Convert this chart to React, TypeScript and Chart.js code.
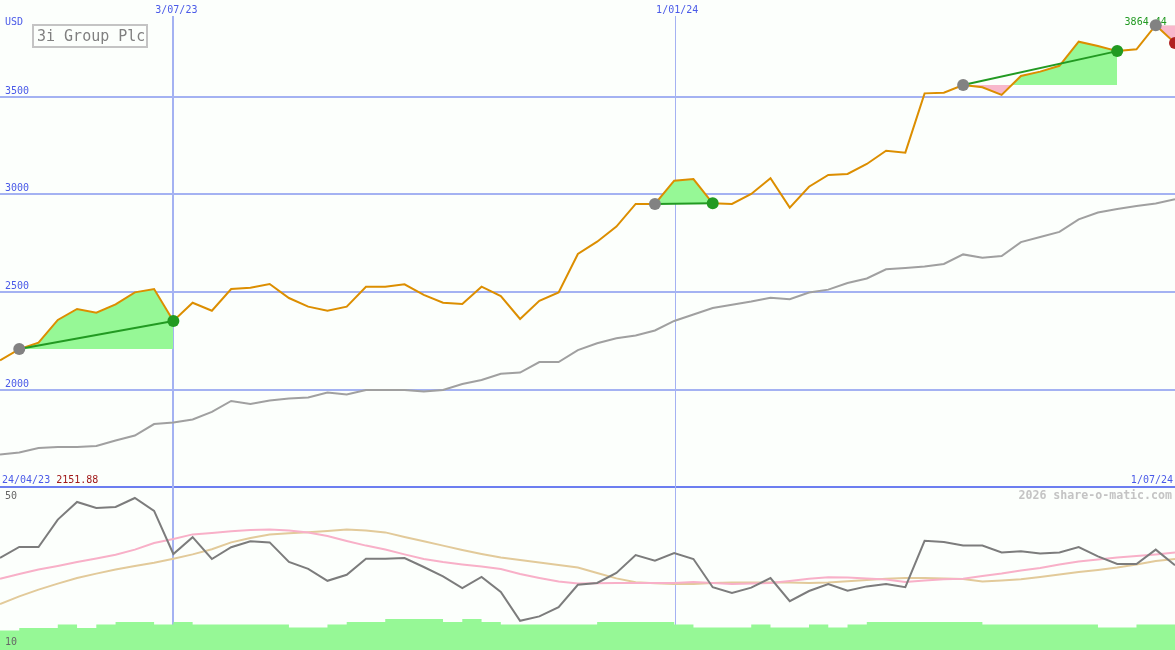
import React, { useEffect, useRef } from "react";
import { Chart, registerables } from "chart.js";

Chart.register(...registerables);

// ---- data (weekly points, 24/04/23 .. 1/07/24) ----
const price = [
  2151.88, 2209, 2242, 2358, 2414, 2395, 2438, 2499, 2516, 2353,
  2446, 2405, 2516, 2523, 2542, 2470, 2426, 2405, 2426, 2528,
  2528, 2540, 2486, 2446, 2440, 2528, 2480, 2363, 2456, 2499,
  2695, 2758, 2835, 2951, 2951, 3070, 3078, 2954, 2951, 3002,
  3082, 2932, 3039, 3099, 3104, 3155, 3223, 3213, 3516, 3519,
  3559, 3547, 3508, 3605, 3627, 3657, 3780, 3758, 3732, 3741,
  3864.44, 3773,
];

const benchmark = [
  1670, 1681, 1704, 1709, 1709, 1714, 1742, 1767, 1826, 1834,
  1849, 1888, 1944, 1928, 1946, 1957, 1962, 1987, 1977, 2000,
  2000, 2000, 1992, 2000, 2031, 2051, 2083, 2089, 2143, 2143,
  2204, 2239, 2264, 2279, 2304, 2353, 2386, 2419, 2436, 2452,
  2472, 2464, 2498, 2513, 2547, 2570, 2617, 2624, 2631, 2644,
  2693, 2676, 2685, 2756, 2782, 2808, 2872, 2907, 2925, 2940,
  2953, 2975,
];

const oscillator = [
  33, 35.75, 35.75, 42.6, 47, 45.5, 45.75, 48, 44.8, 34,
  38.2, 32.75, 35.7, 37.2, 36.9, 32, 30.3, 27.3, 28.8, 32.8,
  32.8, 33, 30.75, 28.4, 25.5, 28.25, 24.5, 17.3, 18.4, 20.7,
  26.3, 26.75, 29.25, 33.75, 32.3, 34.25, 32.75, 25.7, 24.25, 25.6,
  28, 22.2, 24.75, 26.5, 24.8, 25.9, 26.5, 25.7, 37.3, 37,
  36.1, 36.1, 34.4, 34.7, 34.1, 34.4, 35.75, 33.4, 31.5, 31.5,
  35.1, 31.2,
];

const oscFast = [
  27.8, 29, 30.1, 31, 32, 32.9, 33.8, 35.1, 36.75, 37.75,
  38.9, 39.25, 39.7, 40, 40.1, 39.9, 39.4, 38.5, 37.25, 36.1,
  35.1, 33.9, 32.75, 32, 31.4, 30.9, 30.25, 29, 28, 27.1,
  26.6, 26.7, 26.75, 26.75, 26.75, 26.75, 27, 26.75, 26.5, 26.6,
  26.75, 27.25, 27.8, 28.2, 28.1, 27.9, 27.6, 27, 27.4, 27.7,
  27.8, 28.5, 29.1, 29.9, 30.5, 31.4, 32.1, 32.6, 33.1, 33.5,
  33.9, 34.4,
];

const oscSlow = [
  21.5, 23.4, 25.1, 26.6, 28, 29.1, 30.1, 31, 31.8, 32.8,
  33.9, 35.2, 36.9, 38, 38.9, 39.2, 39.45, 39.75, 40.1, 39.9,
  39.4, 38.25, 37.2, 36.1, 35, 34, 33.1, 32.5, 31.9, 31.25,
  30.6, 29.25, 27.9, 26.95, 26.7, 26.5, 26.5, 26.75, 26.9, 26.9,
  26.9, 26.9, 26.75, 26.9, 27.2, 27.5, 27.8, 28, 28, 27.9,
  27.75, 27.1, 27.4, 27.7, 28.25, 28.9, 29.5, 30, 30.6, 31.4,
  32.25, 32.75,
];

const volume = [
  3.9, 4.4, 4.4, 5.1, 4.4, 5.1, 5.6, 5.6, 5.1, 5.6,
  5.1, 5.1, 5.1, 5.1, 5.1, 4.5, 4.5, 5.1, 5.6, 5.6,
  6.2, 6.2, 6.2, 5.6, 6.2, 5.6, 5.1, 5.1, 5.1, 5.1,
  5.1, 5.6, 5.6, 5.6, 5.6, 5.1, 4.5, 4.5, 4.5, 5.1,
  4.5, 4.5, 5.1, 4.5, 5.1, 5.6, 5.6, 5.6, 5.6, 5.6,
  5.6, 5.1, 5.1, 5.1, 5.1, 5.1, 5.1, 4.5, 4.5, 5.1,
  5.1, 5.1,
];

const priceTicks = [2000, 2500, 3000, 3500];
const dateMarkIdx = [9, 35];
const dateMarkLabels = ["3/07/23", "1/01/24"];
const signalStart = [1, 34, 50, 60];
const signalEnd = [9, 37, 58, 61];
const startDateLabel = "24/04/23";
const startPriceLabel = "2151.88";
const endDateLabel = "1/07/24";
const highIdx = 60;
const highLabel = "3864.44";
const title = "3i Group Plc";
const currency = "USD";
const oscTopLabel = "50";
const oscBottomLabel = "10";
const credit = "2026 share-o-matic.com";

// ---- styles ----
const BG = "#fcfffc";
const GRID = "#a4b2f2";
const SEP = "#6c7ef0";
const TXT_BLUE = "#4a5ae8";
const ORANGE = "#dc8e00";
const BENCH = "#a0a0a0";
const OSC = "#7c7c7c";
const PINK_LINE = "#f8b0c8";
const TAN_LINE = "#e2ca9a";
const GREEN_FILL = "#96f896";
const PINK_FILL = "#f8b8cc";
const GREEN = "#229a22";
const RED = "#b02020";
const DOT_GRAY = "#828282";
const MONO = '"DejaVu Sans Mono", monospace';

const W = 1175;
const H = 650;

export default function App() {
  const ref = useRef<HTMLCanvasElement | null>(null);

  useEffect(() => {
    document.body.style.margin = "0";
    document.body.style.background = BG;
    const canvas = ref.current;
    if (!canvas) return;

    const idx = price.map((_, i) => i);
    const labels = idx.map((i) => String(i));
    const inRange = (i: number, s: number, e: number) => i >= s && i <= e;
    const gain = (k: number) => price[signalEnd[k]] >= price[signalStart[k]];

    const datasets: any[] = [];
    const base = {
      pointRadius: 0,
      pointHoverRadius: 0,
      borderWidth: 2,
      tension: 0,
      fill: false,
    };

    datasets.push({
      ...base,
      label: "volume",
      data: volume,
      yAxisID: "yVol",
      stepped: true,
      fill: "start",
      backgroundColor: GREEN_FILL,
      borderColor: "rgba(0,0,0,0)",
      borderWidth: 0,
      order: 40,
    });

    signalStart.forEach((s, k) => {
      const e = signalEnd[k];
      const baseIndex = datasets.length;
      datasets.push({
        ...base,
        label: "base" + k,
        data: idx.map((i) => (inRange(i, s, e) ? price[s] : null)),
        yAxisID: "y",
        borderColor: "rgba(0,0,0,0)",
        borderWidth: 0,
        order: 31,
      });
      datasets.push({
        ...base,
        label: "area" + k,
        data: idx.map((i) => (inRange(i, s, e) ? price[i] : null)),
        yAxisID: "y",
        borderColor: "rgba(0,0,0,0)",
        borderWidth: 0,
        fill: { target: baseIndex, above: GREEN_FILL, below: PINK_FILL },
        order: 30,
      });
    });

    datasets.push({
      ...base,
      label: "slow",
      data: oscSlow,
      yAxisID: "yOsc",
      borderColor: TAN_LINE,
      order: 22,
    });
    datasets.push({
      ...base,
      label: "fast",
      data: oscFast,
      yAxisID: "yOsc",
      borderColor: PINK_LINE,
      order: 21,
    });
    datasets.push({
      ...base,
      label: "osc",
      data: oscillator,
      yAxisID: "yOsc",
      borderColor: OSC,
      order: 20,
    });

    datasets.push({
      ...base,
      label: "benchmark",
      data: benchmark,
      yAxisID: "y",
      borderColor: BENCH,
      order: 12,
    });

    signalStart.forEach((s, k) => {
      if (!gain(k)) return;
      const e = signalEnd[k];
      datasets.push({
        ...base,
        label: "trend" + k,
        data: idx.map((i) => (i === s || i === e ? price[i] : null)),
        yAxisID: "y",
        spanGaps: true,
        borderColor: GREEN,
        order: 5,
      });
    });

    datasets.push({
      ...base,
      label: "price",
      data: price,
      yAxisID: "y",
      borderColor: ORANGE,
      order: 10,
    });

    datasets.push({
      ...base,
      label: "starts",
      data: idx.map((i) => (signalStart.includes(i) ? price[i] : null)),
      yAxisID: "y",
      showLine: false,
      borderColor: "rgba(0,0,0,0)",
      pointRadius: 6,
      pointBorderWidth: 0,
      pointBackgroundColor: DOT_GRAY,
      order: 3,
    });

    datasets.push({
      ...base,
      label: "ends",
      data: idx.map((i) => (signalEnd.includes(i) ? price[i] : null)),
      yAxisID: "y",
      showLine: false,
      borderColor: "rgba(0,0,0,0)",
      pointRadius: 6,
      pointBorderWidth: 0,
      pointBackgroundColor: (c: any) => {
        const k = signalEnd.indexOf(c.dataIndex);
        return k >= 0 && !gain(k) ? RED : GREEN;
      },
      order: 2,
    });

    const text = (
      ctx: CanvasRenderingContext2D,
      s: string,
      x: number,
      y: number,
      color: string,
      font: string,
      align: CanvasTextAlign = "left"
    ) => {
      ctx.font = font;
      ctx.fillStyle = color;
      ctx.textAlign = align;
      ctx.textBaseline = "alphabetic";
      ctx.fillText(s, x, y);
    };

    const decor = {
      id: "decor",
      beforeDraw(chart: any) {
        const { ctx, width, height } = chart;
        const ys = chart.scales.y;
        const xs = chart.scales.x;
        ctx.save();
        ctx.fillStyle = BG;
        ctx.fillRect(0, 0, width, height);
        ctx.fillStyle = GRID;
        priceTicks.forEach((v) => {
          const p = Math.round(ys.getPixelForValue(v));
          ctx.fillRect(0, p - 1, width, 2);
        });
        ctx.fillStyle = SEP;
        ctx.fillRect(0, 486, width, 2);
        dateMarkIdx.forEach((d, k) => {
          const px = Math.round(xs.getPixelForValue(d));
          ctx.fillStyle = GRID;
          if (k === 0) ctx.fillRect(px - 1, 16, 2, height - 16);
          else ctx.fillRect(px + 1, 16, 1, height - 16);
        });
        const hx = xs.getPixelForValue(highIdx);
        text(ctx, highLabel, hx + 11, 25, GREEN, "10px " + MONO, "right");
        ctx.restore();
      },
      afterDraw(chart: any) {
        const { ctx, width } = chart;
        const ys = chart.scales.y;
        const xs = chart.scales.x;
        const f10 = "10px " + MONO;
        ctx.save();
        text(ctx, currency, 5, 25, TXT_BLUE, f10);
        priceTicks.forEach((v) => {
          const p = Math.round(ys.getPixelForValue(v));
          text(ctx, String(v), 5, p - 3, TXT_BLUE, f10);
        });
        dateMarkIdx.forEach((d, k) => {
          const px = xs.getPixelForValue(d);
          text(ctx, dateMarkLabels[k], px + 3, 13, TXT_BLUE, f10, "center");
        });
        ctx.font = f10;
        text(ctx, startDateLabel + " ", 2, 483, TXT_BLUE, f10);
        const w0 = ctx.measureText(startDateLabel + " ").width;
        text(ctx, startPriceLabel, 2 + w0, 483, "#a01818", f10);
        text(ctx, endDateLabel, width - 2, 483, TXT_BLUE, f10, "right");
        text(ctx, credit, width - 3, 499, "#c4c4c4", "bold 11.6px " + MONO, "right");
        text(ctx, oscTopLabel, 5, 499, "#666666", f10);
        text(ctx, oscBottomLabel, 5, 645, "#666666", f10);
        ctx.strokeStyle = "#c4c4c4";
        ctx.lineWidth = 2;
        ctx.strokeRect(33, 25, 114, 22);
        text(ctx, title, 37, 41, "#808080", "15px " + MONO);
        ctx.restore();
      },
    };

    const chart = new Chart(canvas, {
      type: "line",
      data: { labels, datasets },
      options: {
        responsive: false,
        devicePixelRatio: 1,
        animation: false,
        events: [],
        layout: { padding: 0, autoPadding: false },
        plugins: {
          legend: { display: false },
          tooltip: { enabled: false },
        },
        scales: {
          x: { type: "category", display: false, offset: false },
          y: { type: "linear", display: false, min: 671.2, max: 3993.2 },
          yOsc: { type: "linear", display: false, min: 10, max: 172.5 },
          yVol: { type: "linear", display: false, min: 0, max: 130 },
        },
      },
      plugins: [decor],
    });

    return () => chart.destroy();
  }, []);

  return (
    <canvas
      ref={ref}
      width={W}
      height={H}
      style={{ display: "block", width: W, height: H }}
    />
  );
}
